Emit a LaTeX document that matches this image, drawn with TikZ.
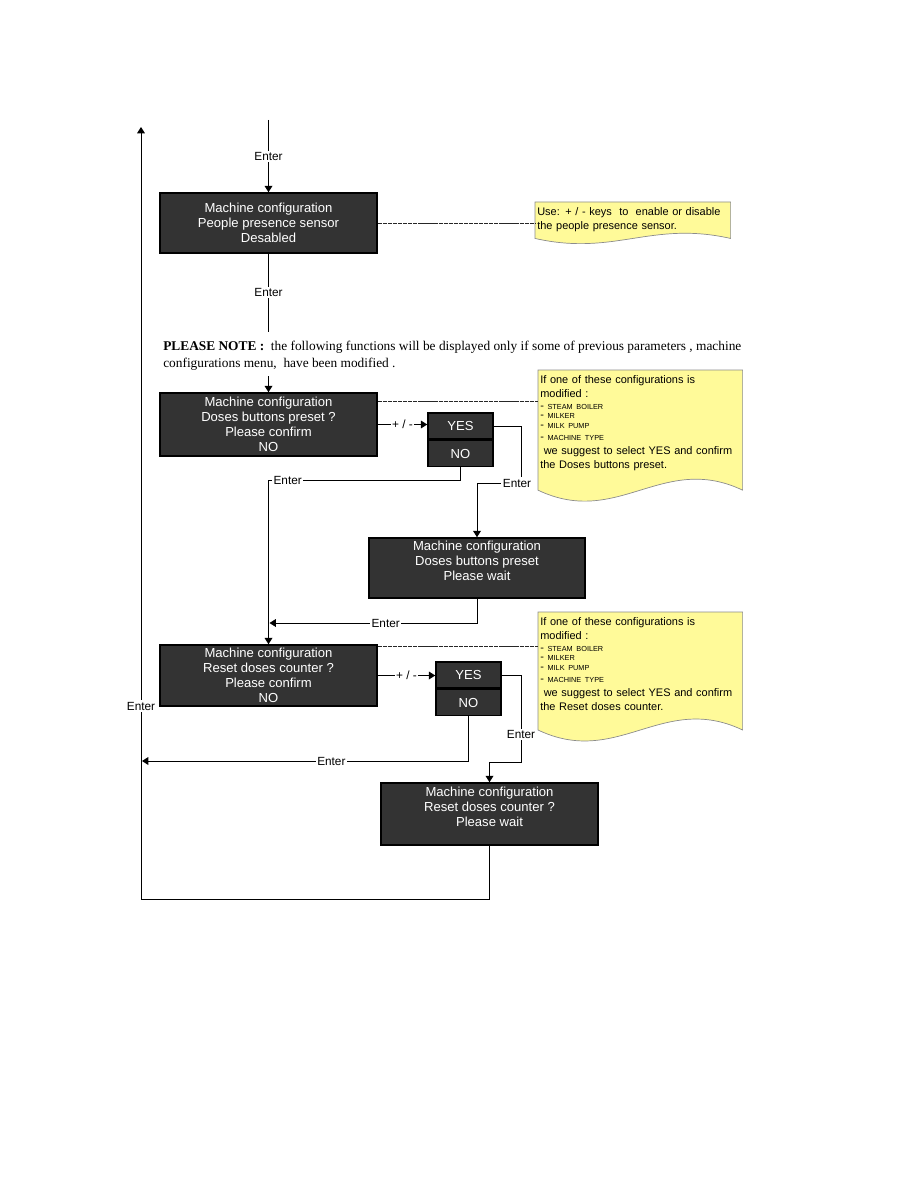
\documentclass[tikz,border=0pt]{standalone}
\usepackage{fontspec}
\setmainfont{Liberation Sans}
\newfontfamily\serifnote{Liberation Serif}
\newcommand{\smalltxt}{\fontsize{5.2}{7}\selectfont}
\usetikzlibrary{arrows.meta,calc,backgrounds}

\begin{document}
\begin{tikzpicture}[
    x=0.025cm, y=-0.025cm,
    box/.style={draw=black, line width=1.1pt, fill=black!80, text=white, align=center, inner sep=0pt, minimum width=5.425cm, font=\fontsize{9.3}{10.7}\selectfont},
    key/.style={box, minimum width=1.625cm, minimum height=0.66cm},
    note/.style={anchor=north west, align=left, inner xsep=0.05cm, inner ysep=0.12cm, font=\fontsize{7.8}{10}\selectfont},
    notebg/.style={draw=black!45, fill=yellow!40, line width=0.5pt},
    pnote/.style={anchor=north west, align=left, inner sep=0pt, font=\serifnote\fontsize{9.5}{12}\selectfont},
    arr/.style={-{Triangle[length=4.5pt,width=5.5pt]}, line width=0.7pt},
    wire/.style={line width=0.7pt},
    link/.style={line width=0.5pt, black!85, dash pattern=on 3pt off 0.6pt},
    lbl/.style={font=\fontsize{8.4}{10}\selectfont, fill=white, inner sep=1pt}
]
\useasboundingbox (0,0) rectangle (918,1188);

% main column
\coordinate (topin) at (268.5,120);
\node[box, minimum height=1.5cm] (sensor) at (268.5,223) {Machine configuration\\People presence sensor\\Desabled};
\coordinate (gap1) at (268.5,332);
\coordinate (gap2) at (268.5,376);
\node[pnote] (pleasenote) at (163,341) {\textbf{PLEASE NOTE :}\ \ the following functions will be displayed only if some of previous parameters , machine\\configurations menu,\ \ have been modified .};
\node[box, minimum height=1.575cm] (doses) at (268.5,424.5) {Machine configuration\\Doses buttons preset ?\\Please confirm\\NO};
\node[key] (yes1) at (460.5,426) {YES};
\node[key] (no1) at (460.5,453.5) {NO};
\node[box, minimum width=5.4cm, minimum height=1.5cm] (dosewait) at (477,568) {Machine configuration\\Doses buttons preset\\Please wait\\\mbox{}};
\node[box, minimum height=1.525cm] (reset) at (268.5,675.5) {Machine configuration\\Reset doses counter ?\\Please confirm\\NO};
\node[key] (yes2) at (468.5,675) {YES};
\node[key] (no2) at (468.5,702.5) {NO};
\node[box, minimum height=1.55cm] (resetwait) at (489.5,814) {Machine configuration\\Reset doses counter ?\\Please wait\\\mbox{}};

\coordinate (j1) at (268.5,480);
\coordinate (r1) at (521,483);
\coordinate (j2) at (269.5,623);
\coordinate (r2) at (521,762);
\coordinate (back) at (142,761);
\coordinate (corner) at (141,899);
\coordinate (home) at (141,127);

% notes
\node[note, text width=4.775cm] (note1) at (535,202) {Use: + / - keys\ \ to\ \ enable or disable\\the people presence sensor.};
\node[note, text width=5cm] (note2) at (538,370) {If one of these configurations is\\modified :\\[-1.5pt]- {\smalltxt STEAM BOILER}\\[-3pt]- {\smalltxt MILKER}\\[-3pt]- {\smalltxt MILK PUMP}\\[-1.5pt]- {\smalltxt MACHINE TYPE}\\[0pt]\hspace*{2.5pt}we suggest to select YES and confirm\\the Doses buttons preset.};
\node[note, text width=5cm] (note3) at (538,612) {If one of these configurations is\\modified :\\[-1.5pt]- {\smalltxt STEAM BOILER}\\[-3pt]- {\smalltxt MILKER}\\[-3pt]- {\smalltxt MILK PUMP}\\[-1.5pt]- {\smalltxt MACHINE TYPE}\\[0pt]\hspace*{2.5pt}we suggest to select YES and confirm\\the Reset doses counter.};
\begin{scope}[on background layer]
\foreach \n/\d/\k in {note1/2/18, note2/14/38, note3/14/38}
  \filldraw[notebg] (\n.north west) -- (\n.north east) -- ($(\n.south east)+(0,\d)$) .. controls +(-80,-\k) and +(80,\k) .. ($(\n.south west)+(0,\d)$) -- cycle;
\end{scope}

\draw[link] (sensor.east) -- (sensor.east -| note1.west);
\draw[link] ($(doses.north east)+(0,9)$) coordinate (d2) -- (d2 -| note2.west);
\draw[link] ($(reset.north east)+(0,2)$) coordinate (d3) -- (d3 -| note3.west);

% connectors
\draw[arr] (topin) -- node[lbl]{Enter} (sensor);
\draw[wire] (sensor) -- node[lbl]{Enter} (gap1);
\draw[arr] (gap2) -- (doses);
\draw[arr] (doses.east) -- node[lbl]{+ / -} (doses.east -| yes1.west);
\draw[arr] (no1.south) |- node[lbl, pos=0.95]{Enter} (j1) -- (reset.north);
\draw[arr] (yes1.east) -| (r1) node[lbl, xshift=-0.1cm]{Enter} -| (dosewait.north);
\draw[arr] (dosewait.south) |- node[lbl, pos=0.72]{Enter} (j2);
\draw[arr] (reset.east) -- node[lbl]{+ / -} (reset.east -| yes2.west);
\draw[arr] (no2.south) |- node[lbl, pos=0.71]{Enter} (back);
\draw[arr] (yes2.east) -| node[lbl, pos=0.84]{Enter} (r2) -| (resetwait.north);
\draw[arr] (resetwait.south) |- (corner) -- node[lbl, pos=0.25]{Enter} (home);
\end{tikzpicture}
\end{document}
